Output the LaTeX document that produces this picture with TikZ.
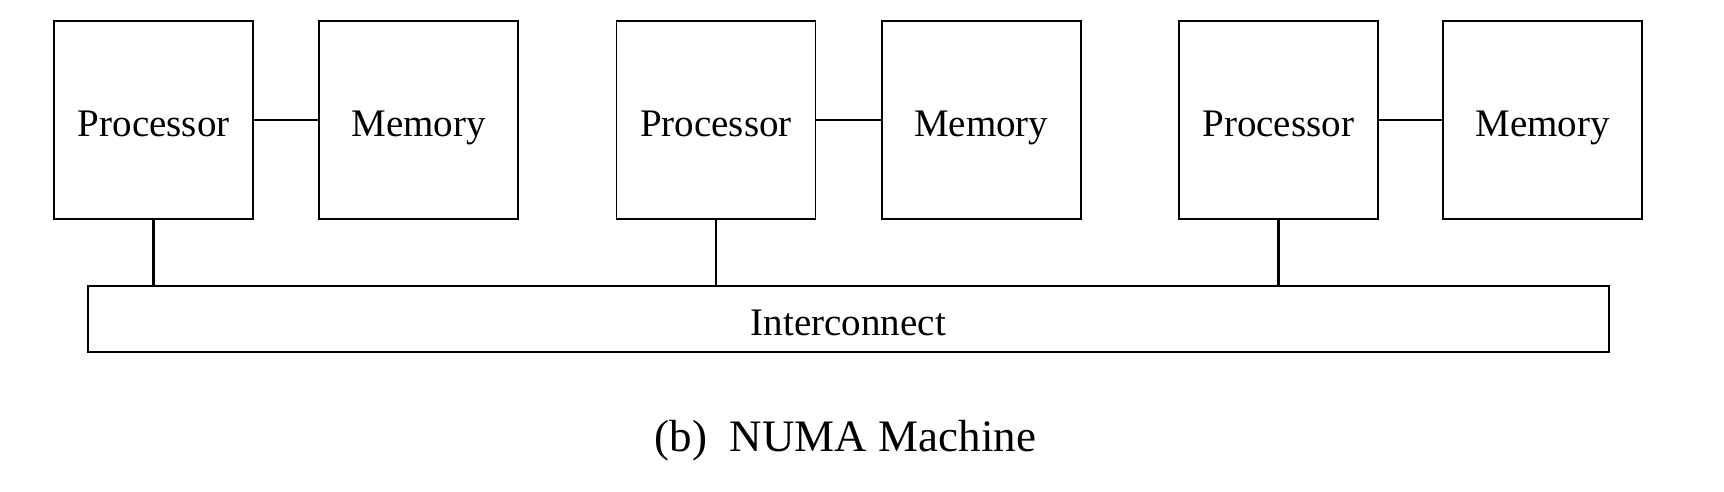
\documentclass[tikz,border=0pt]{standalone}
\usepackage{fontspec}
\setmainfont{Liberation Serif}
\usepackage{tikz}

\begin{document}
\begin{tikzpicture}[x=0.5pt,y=0.5pt]
\tikzstyle{every node}+=[inner sep=0pt]
\tikzstyle{unit}=[draw=black, line width=0.9pt, minimum width=99.5pt, minimum height=99.3pt, text height=21.5pt, text depth=4.7pt, font=\fontsize{19.5}{23}\selectfont]
\tikzstyle{bus}=[draw=black, line width=0.9pt, minimum width=760.5pt, minimum height=33pt, text height=21.5pt, text depth=4.7pt, font=\fontsize{19.5}{23}\selectfont]
\tikzstyle{wire}=[black, line width=1.4pt]
\useasboundingbox (0,0) rectangle (1724,-492);
\node [unit] (proc1) at (153.8,-120) {Processor};
\node [unit] (mem1) at (418.5,-120) {Memory};
\node [unit] (proc2) at (716,-120) {Processor};
\node [unit] (mem2) at (981.2,-120) {Memory};
\node [unit] (proc3) at (1278.2,-120) {Processor};
\node [unit] (mem3) at (1542.8,-120) {Memory};
\node [bus] (net) at (848.4,-318.7) {Interconnect};
\draw [wire] (proc1) -- (mem1);
\draw [wire] (proc2) -- (mem2);
\draw [wire] (proc3) -- (mem3);
\draw [wire] (proc1.south) -- (proc1.south |- net.north);
\draw [wire] (proc2.south) -- (proc2.south |- net.north);
\draw [wire] (proc3.south) -- (proc3.south |- net.north);
\node [anchor=base, font=\fontsize{22.5}{27}\selectfont] (caption) at (845.5,-451.7) {(b)\ \ NUMA Machine};
\end{tikzpicture}
\end{document}
